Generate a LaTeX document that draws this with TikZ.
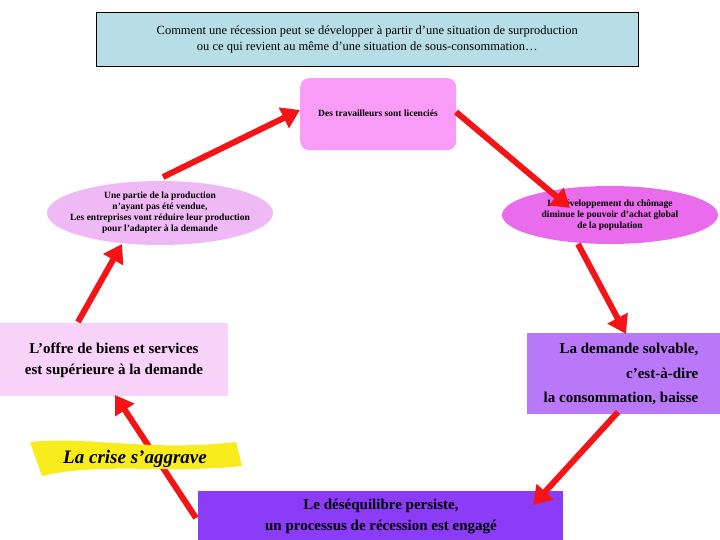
\documentclass[tikz,border=0pt]{standalone}
\usepackage{fontspec}
\setmainfont{Liberation Serif}
\usetikzlibrary{arrows.meta,shapes.geometric}
\definecolor{titlebg}{HTML}{B7DDE6}
\definecolor{pinkbox}{HTML}{F99CF7}
\definecolor{lellipse}{HTML}{EFB9F5}
\definecolor{rellipse}{HTML}{E86CEC}
\definecolor{lrect}{HTML}{F7D3F9}
\definecolor{rrect}{HTML}{B878F7}
\definecolor{brect}{HTML}{8A3CF7}
\definecolor{banner}{HTML}{F8EC1C}
\definecolor{arrred}{HTML}{F41416}
\begin{document}
\begin{tikzpicture}[x=1pt,y=-1pt,
  bigarrow/.style={draw=arrred,line width=6pt,-{Triangle[length=18pt,width=22pt]}},
  smalltxt/.style={font=\bfseries\fontsize{9.5}{11}\selectfont,align=center,inner sep=0pt},
  bigtxt/.style={font=\bfseries\fontsize{15}{21}\selectfont,inner sep=0pt}]
\useasboundingbox (0,0) rectangle (720,540);
% title
\node[draw=black,fill=titlebg,minimum width=542pt,minimum height=54pt,anchor=north west,align=center,font=\fontsize{12.5}{16}\selectfont,inner sep=0pt] (title) at (96,12)
 {Comment une récession peut se développer à partir d’une situation de surproduction\\ ou ce qui revient au même d’une situation de sous-consommation…};
% pink box
\node[fill=pinkbox,rounded corners=9pt,minimum width=156pt,minimum height=72pt,anchor=north west] (lic) at (300,78) {};
\node[smalltxt] (lict) at (378,113) {Des travailleurs sont licenciés};
% ellipses
\node[ellipse,fill=lellipse,minimum width=226pt,minimum height=64pt,inner sep=0pt] (le) at (160,213) {};
\node[smalltxt] (let) at (160,213) {Une partie de la production\\ n’ayant pas été vendue,\\ Les entreprises vont réduire leur production\\ pour l’adapter à la demande};
\node[ellipse,fill=rellipse,minimum width=216pt,minimum height=58pt,inner sep=0pt] (re) at (610,215) {};
\node[smalltxt] (ret) at (610,215) {Le développement du chômage\\ diminue le pouvoir d’achat global\\ de la population};
% rectangles
\node[fill=lrect,minimum width=228pt,minimum height=73pt,anchor=north west] (lr) at (0,323) {};
\node[bigtxt,align=center] (lrt) at (114,360) {L’offre de biens et services\\ est supérieure à la demande};
\node[fill=rrect,minimum width=193pt,minimum height=81pt,anchor=north west] (rr) at (527,333) {};
\node[bigtxt,align=right,font=\bfseries\fontsize{15}{24.5}\selectfont] (rrt) at (621,374) {La demande solvable,\\ c’est-à-dire\\ la consommation, baisse};
\node[fill=brect,minimum width=365pt,minimum height=49pt,anchor=north west] (br) at (198,491) {};
\node[bigtxt,align=center] (brt) at (381,516) {Le déséquilibre persiste,\\ un processus de récession est engagé};
% arrows
\coordinate (a1s) at (163,177); \coordinate (a1e) at (300,110);
\coordinate (a2s) at (456,112); \coordinate (a2e) at (570,208);
\coordinate (a3s) at (578,244); \coordinate (a3e) at (626,334);
\coordinate (a4s) at (618,412); \coordinate (a4e) at (533,505);
\coordinate (a5s) at (196,518); \coordinate (a5e) at (115,395);
\coordinate (a6s) at (78,322); \coordinate (a6e) at (122,244);
\draw[bigarrow] (a1s) -- (a1e);
\draw[bigarrow] (a2s) -- (a2e);
\draw[bigarrow] (a3s) -- (a3e);
\draw[bigarrow] (a4s) -- (a4e);
\draw[bigarrow] (a5s) -- (a5e);
\draw[bigarrow] (a6s) -- (a6e);
% banner
\fill[banner] (30,442) .. controls (90,436) and (150,452) .. (236,442)
  -- (242,466) .. controls (170,474) and (100,462) .. (42,476) -- cycle;
\node[font=\bfseries\itshape\fontsize{19}{22}\selectfont,inner sep=0pt] (cr) at (135,459) {La crise s’aggrave};
\end{tikzpicture}
\end{document}
